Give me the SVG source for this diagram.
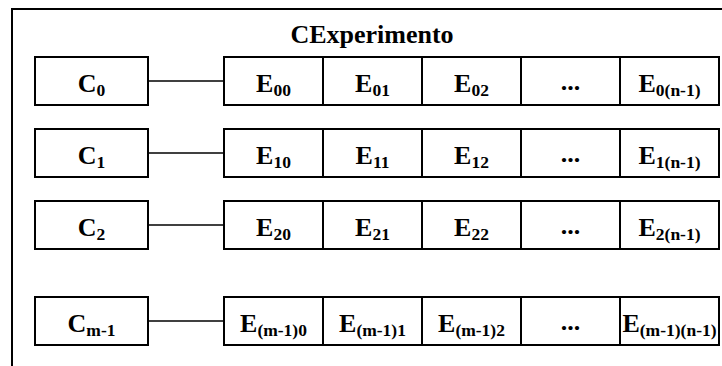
<svg xmlns="http://www.w3.org/2000/svg" width="722" height="366" viewBox="0 0 722 366">
  <style>
    .box { fill: #fff; stroke: #000; stroke-width: 2; }
    .frame { fill: none; stroke: #000; stroke-width: 2; }
    .link { stroke: #000; stroke-width: 1.6; fill: none; }
    .lbl { font-family: "Liberation Serif", "Times New Roman", serif; font-weight: bold; font-size: 26px; fill: #000; text-anchor: middle; }
    .sub { font-size: 17.5px; }
    .title { font-family: "Liberation Serif", "Times New Roman", serif; font-weight: bold; font-size: 26px; fill: #000; text-anchor: middle; }
  </style>

  <!-- container frame (extends past the canvas on the right and bottom) -->
  <g id="frame">
    <rect class="frame" x="12" y="9" width="730" height="380"/>
    <text class="title" x="372" y="43">CExperimento</text>
  </g>

  <!-- connectors from each C node to its row of E cells -->
  <g id="connectors">
    <line class="link" x1="148" y1="81" x2="224" y2="81"/>
    <line class="link" x1="148" y1="153" x2="224" y2="153"/>
    <line class="link" x1="148" y1="225" x2="224" y2="225"/>
    <line class="link" x1="148" y1="321" x2="224" y2="321"/>
  </g>

  <!-- row 0 -->
  <g id="C0">
    <rect class="box" x="35" y="57" width="113" height="48"/>
    <text class="lbl" x="91.5" y="91.5">C<tspan class="sub" dy="4">0</tspan></text>
  </g>
  <g id="E00">
    <rect class="box" x="224" y="57" width="99" height="48"/>
    <text class="lbl" x="273.5" y="91.5">E<tspan class="sub" dy="4">00</tspan></text>
  </g>
  <g id="E01">
    <rect class="box" x="323" y="57" width="99" height="48"/>
    <text class="lbl" x="372.5" y="91.5">E<tspan class="sub" dy="4">01</tspan></text>
  </g>
  <g id="E02">
    <rect class="box" x="422" y="57" width="99" height="48"/>
    <text class="lbl" x="471.5" y="91.5">E<tspan class="sub" dy="4">02</tspan></text>
  </g>
  <g id="E0dots">
    <rect class="box" x="521" y="57" width="99" height="48"/>
    <text class="lbl" x="570.5" y="90">...</text>
  </g>
  <g id="E0n">
    <rect class="box" x="620" y="57" width="99" height="48"/>
    <text class="lbl" x="669.5" y="91.5">E<tspan class="sub" dy="4">0(n-1)</tspan></text>
  </g>

  <!-- row 1 -->
  <g id="C1">
    <rect class="box" x="35" y="129" width="113" height="48"/>
    <text class="lbl" x="91.5" y="163.5">C<tspan class="sub" dy="4">1</tspan></text>
  </g>
  <g id="E10">
    <rect class="box" x="224" y="129" width="99" height="48"/>
    <text class="lbl" x="273.5" y="163.5">E<tspan class="sub" dy="4">10</tspan></text>
  </g>
  <g id="E11">
    <rect class="box" x="323" y="129" width="99" height="48"/>
    <text class="lbl" x="372.5" y="163.5">E<tspan class="sub" dy="4">11</tspan></text>
  </g>
  <g id="E12">
    <rect class="box" x="422" y="129" width="99" height="48"/>
    <text class="lbl" x="471.5" y="163.5">E<tspan class="sub" dy="4">12</tspan></text>
  </g>
  <g id="E1dots">
    <rect class="box" x="521" y="129" width="99" height="48"/>
    <text class="lbl" x="570.5" y="162">...</text>
  </g>
  <g id="E1n">
    <rect class="box" x="620" y="129" width="99" height="48"/>
    <text class="lbl" x="669.5" y="163.5">E<tspan class="sub" dy="4">1(n-1)</tspan></text>
  </g>

  <!-- row 2 -->
  <g id="C2">
    <rect class="box" x="35" y="201" width="113" height="48"/>
    <text class="lbl" x="91.5" y="235.5">C<tspan class="sub" dy="4">2</tspan></text>
  </g>
  <g id="E20">
    <rect class="box" x="224" y="201" width="99" height="48"/>
    <text class="lbl" x="273.5" y="235.5">E<tspan class="sub" dy="4">20</tspan></text>
  </g>
  <g id="E21">
    <rect class="box" x="323" y="201" width="99" height="48"/>
    <text class="lbl" x="372.5" y="235.5">E<tspan class="sub" dy="4">21</tspan></text>
  </g>
  <g id="E22">
    <rect class="box" x="422" y="201" width="99" height="48"/>
    <text class="lbl" x="471.5" y="235.5">E<tspan class="sub" dy="4">22</tspan></text>
  </g>
  <g id="E2dots">
    <rect class="box" x="521" y="201" width="99" height="48"/>
    <text class="lbl" x="570.5" y="234">...</text>
  </g>
  <g id="E2n">
    <rect class="box" x="620" y="201" width="99" height="48"/>
    <text class="lbl" x="669.5" y="235.5">E<tspan class="sub" dy="4">2(n-1)</tspan></text>
  </g>

  <!-- row m-1 -->
  <g id="Cm1">
    <rect class="box" x="35" y="297" width="113" height="48"/>
    <text class="lbl" x="91.5" y="331.5">C<tspan class="sub" dy="4">m-1</tspan></text>
  </g>
  <g id="Em10">
    <rect class="box" x="224" y="297" width="99" height="48"/>
    <text class="lbl" x="273.5" y="331.5">E<tspan class="sub" dy="4">(m-1)0</tspan></text>
  </g>
  <g id="Em11">
    <rect class="box" x="323" y="297" width="99" height="48"/>
    <text class="lbl" x="372.5" y="331.5">E<tspan class="sub" dy="4">(m-1)1</tspan></text>
  </g>
  <g id="Em12">
    <rect class="box" x="422" y="297" width="99" height="48"/>
    <text class="lbl" x="471.5" y="331.5">E<tspan class="sub" dy="4">(m-1)2</tspan></text>
  </g>
  <g id="Emdots">
    <rect class="box" x="521" y="297" width="99" height="48"/>
    <text class="lbl" x="570.5" y="330">...</text>
  </g>
  <g id="Emn">
    <rect class="box" x="620" y="297" width="99" height="48"/>
    <text class="lbl" x="669.5" y="331.5">E<tspan class="sub" dy="4">(m-1)(n-1)</tspan></text>
  </g>
</svg>
